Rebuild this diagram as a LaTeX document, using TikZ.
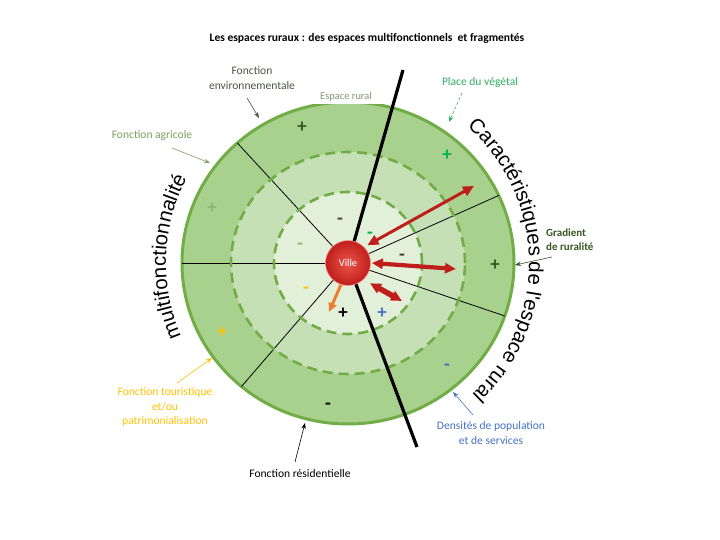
\documentclass[tikz,border=0pt]{standalone}
\usepackage{fontspec}
\setmainfont{Carlito}
\newfontfamily\arcfont{Liberation Sans}
\usetikzlibrary{arrows.meta,decorations.text}
\definecolor{ringdark}{RGB}{169,209,142}
\definecolor{ringmid}{RGB}{197,224,180}
\definecolor{ringlight}{RGB}{226,240,217}
\definecolor{ringline}{RGB}{112,173,71}
\definecolor{villered}{RGB}{192,30,26}
\definecolor{villelight}{RGB}{235,85,75}
\definecolor{darkgreen}{RGB}{55,86,35}
\definecolor{brightgreen}{RGB}{0,176,80}
\definecolor{vegetal}{RGB}{50,172,95}
\definecolor{palegreen}{RGB}{140,185,110}
\definecolor{agrigreen}{RGB}{125,160,95}
\definecolor{envgray}{RGB}{75,85,65}
\definecolor{ruralgray}{RGB}{130,155,110}
\definecolor{tourisme}{RGB}{255,192,0}
\definecolor{densblue}{RGB}{68,114,196}
\definecolor{orangearrow}{RGB}{237,125,49}

\begin{document}
\begin{tikzpicture}[x=1bp, y=1bp,
    lbl/.style={align=center, font=\fontsize{11.6}{14.5}\selectfont, inner sep=1bp},
    sign/.style={font=\fontsize{19}{19}\selectfont\bfseries, inner sep=0pt},
    pointer/.style={-{Stealth[length=6bp,width=4.5bp]}, line width=0.6bp},
    divider/.style={draw=black, line width=0.8bp},
    cutline/.style={draw=black, line width=3.2bp},
    dashring/.style={draw=ringline, line width=2.6bp, dash pattern=on 10bp off 6bp},
    twoway/.style={{Triangle[length=11bp,width=10bp]}-{Triangle[length=11bp,width=10bp]}, draw=villered},
    ville/.style={circle, minimum size=45bp, inner sep=0pt, draw=villelight!60!white, line width=0.6bp,
                  inner color=villelight, outer color=villered, text=white, font=\fontsize{10.5}{10.5}\selectfont},
    curved/.style={decorate, decoration={text along path, text align=center,
                   text={|\arcfont\fontsize{20.5}{20.5}\selectfont|#1}}}
]
\useasboundingbox (-348,-277) rectangle (372,263);

\draw[fill=ringdark, draw=ringline, line width=3bp] (0,0) ellipse [x radius=166, y radius=161];
\fill[ringmid] (0,0) ellipse [x radius=117, y radius=111];
\fill[ringlight] (0,0) ellipse [x radius=74, y radius=71];

\draw[divider] (0,0) -- (180:166 and 161);
\draw[divider] (0,0) -- (131.8:166 and 161);
\draw[divider] (0,0) -- (230.1:166 and 161);
\draw[divider] (0,0) -- (24.8:166 and 161);
\draw[divider] (0,0) -- (-19.2:166 and 161);

\draw[dashring] (0,0) ellipse [x radius=117, y radius=111];
\draw[dashring] (0,0) ellipse [x radius=74, y radius=71];

\draw[cutline] (0,0) -- (55,193);
\draw[cutline] (0,0) -- (69,-184);

\node[sign, text=darkgreen]   (s1)  at (-46,136)  {+};
\node[sign, text=brightgreen] (s2)  at (99,108)   {+};
\node[sign, text=palegreen]   (s3)  at (-136,55)  {+};
\node[sign, text=darkgreen]   (s4)  at (147,-2)   {+};
\node[sign, text=tourisme]    (s5)  at (-126,-69) {+};
\node[sign, text=densblue]    (s6)  at (99,-104)  {-};
\node[sign, text=black]       (s7)  at (-20,-143) {-};
\node[sign, text=black!75]    (s8)  at (-8,42)    {-};
\node[sign, text=brightgreen] (s9)  at (22,28)    {-};
\node[sign, text=palegreen]   (s10) at (-48,17)   {-};
\node[sign, text=black!75]    (s11) at (54,6)     {-};
\node[sign, text=tourisme]    (s12) at (-42,-27)  {-};
\node[sign, text=black]       (s13) at (-5,-50)   {+};
\node[sign, text=densblue]    (s14) at (34,-50)   {+};

\node[ville] (villa) at (0,0) {Ville};

\coordinate (g1) at (126,77);
\coordinate (g2) at (108,-6);
\coordinate (g3) at (54,-38);
\coordinate (g4) at (-19,-49);
\draw[twoway, line width=3bp] (villa.44) ++(3,2) -- (g1);
\draw[twoway, line width=4.2bp] (villa.east) ++(1,0) -- (g2);
\draw[twoway, line width=5.5bp] (villa.-42) ++(5,-5) -- (g3);
\draw[-{Triangle[length=9bp,width=8bp]}, draw=orangearrow, line width=3bp] (villa.-108) -- (g4);

\node[fill=white, text=ruralgray, font=\fontsize{10.5}{10.5}\selectfont, minimum width=76bp, minimum height=15bp, inner sep=0pt] (espace) at (-2,166) {Espace rural};

\node[font=\fontsize{11.6}{13}\selectfont\bfseries] (title) at (19,225) {Les espaces ruraux : des espaces multifonctionnels \ et fragmentés};

\node[lbl, text=envgray] (env) at (-96,185) {Fonction\\environnementale};
\node[lbl, text=agrigreen] (agri) at (-196,128) {Fonction agricole};
\node[lbl, text=vegetal] (veg) at (132,181) {Place du végétal};
\node[lbl, text=darkgreen, align=left, anchor=west, font=\fontsize{11}{14}\selectfont\bfseries] (grad) at (197,23) {Gradient\\de ruralité};
\node[lbl, text=tourisme] (tour) at (-183,-144) {Fonction touristique\\et/ou\\patrimonialisation};
\node[lbl, text=densblue] (dens) at (143,-170) {Densités de population\\et de services};
\node[lbl, text=black] (resid) at (-48,-211) {Fonction résidentielle};

\coordinate (envA) at (-101,165);   \coordinate (envB) at (-89,145);
\coordinate (agriA) at (-176,115);  \coordinate (agriB) at (-138,100);
\coordinate (vegA) at (114,170);    \coordinate (vegB) at (101,141);
\coordinate (gradA) at (204,6);     \coordinate (gradB) at (167,-2);
\coordinate (tourA) at (-171,-120); \coordinate (tourB) at (-136,-95);
\coordinate (densA) at (125,-152);  \coordinate (densB) at (105,-129);
\coordinate (residA) at (-53,-199); \coordinate (residB) at (-43,-160);
\draw[pointer, draw=envgray] (envA) -- (envB);
\draw[pointer, draw=agrigreen] (agriA) -- (agriB);
\draw[pointer, draw=vegetal, densely dashed] (vegA) -- (vegB);
\draw[pointer, draw=darkgreen] (gradA) -- (gradB);
\draw[pointer, draw=tourisme] (tourA) -- (tourB);
\draw[pointer, draw=densblue] (densA) -- (densB);
\draw[pointer, draw=black] (residA) -- (residB);

\path[curved=multifonctionnalité] (215:182) arc[start angle=215, end angle=141, radius=182];
\path[curved=Caractéristiques de l'espace rural] (62:181) arc[start angle=62, end angle=-60, radius=181];
\end{tikzpicture}
\end{document}
